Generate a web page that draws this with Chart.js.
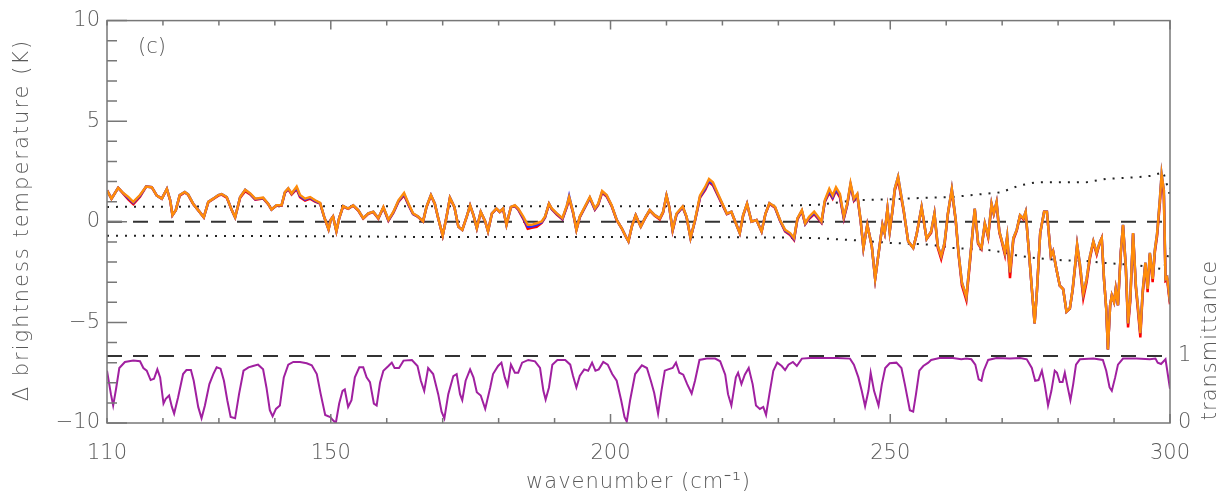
<!DOCTYPE html>
<html>
<head>
<meta charset="utf-8">
<script src="https://cdn.jsdelivr.net/npm/chart.js@4.4.1/dist/chart.umd.min.js"></script>
<style>
  html, body { margin: 0; padding: 0; background: #fff; }
  canvas { display: block; }
</style>
</head>
<body>
<canvas id="spectrumChart" width="1229" height="497"></canvas>
<script>
// wavenumber grid of the brightness temperature differences (cm-1)
const wavenumber = [
  110.0,110.8,112.0,112.9,113.8,114.7,115.9,117.0,118.0,118.9,
  119.8,120.7,121.3,121.7,122.3,123.0,123.9,124.5,125.4,126.3,
  127.3,128.1,129.0,129.9,130.5,131.4,132.3,132.9,133.8,134.7,
  135.6,136.5,137.9,138.8,139.4,140.3,141.2,141.8,142.4,143.0,
  143.9,144.5,145.4,146.3,147.2,148.1,148.8,149.6,150.0,150.4,
  151.0,151.5,152.2,153.1,154.0,154.9,155.8,156.7,157.6,158.5,
  159.4,160.3,161.2,162.1,163.1,163.9,164.7,165.6,166.5,167.1,
  167.9,168.6,169.2,170.0,170.7,171.3,172.1,172.8,173.5,174.3,
  174.9,175.5,176.1,176.8,177.6,178.1,178.8,179.6,180.2,180.8,
  181.4,182.2,182.9,183.5,184.4,185.2,185.9,186.8,187.7,188.3,
  189.0,189.5,190.4,191.4,192.2,192.6,193.3,193.9,194.5,195.4,
  196.3,197.2,197.8,198.5,199.3,200.2,201.1,202.0,202.7,203.2,
  203.8,204.5,205.4,206.3,207.0,207.9,208.8,209.4,210.0,210.5,
  211.1,211.8,212.9,213.6,214.3,215.1,216.0,216.9,217.6,218.3,
  219.2,220.0,220.8,221.6,222.4,223.1,223.7,224.4,225.2,226.1,
  227.0,227.7,228.4,229.4,230.3,231.2,232.1,232.8,233.4,234.2,
  234.8,235.5,236.4,237.1,237.7,238.3,239.1,239.7,240.3,241.0,
  241.7,242.3,242.9,243.5,244.1,244.7,245.2,245.9,246.7,247.3,
  248.0,248.6,249.0,249.5,249.9,250.4,250.8,251.4,251.8,252.4,
  253.2,254.1,254.7,255.6,256.5,257.3,257.9,258.5,259.1,259.7,
  260.3,261.0,261.7,262.2,262.8,263.6,264.2,264.7,265.1,265.7,
  266.3,266.9,267.5,268.1,268.5,269.0,269.5,269.9,270.5,270.9,
  271.4,272.0,272.6,273.2,273.8,274.2,274.8,275.4,275.8,276.2,
  276.8,277.5,278.0,278.7,279.1,279.7,280.3,280.9,281.5,282.1,
  282.6,283.0,283.4,283.9,284.5,285.1,285.7,286.3,286.9,287.4,
  287.8,288.2,288.6,288.9,289.3,289.6,290.0,290.3,290.7,291.2,
  291.6,292.1,292.5,292.9,293.4,293.9,294.3,294.7,295.1,295.6,
  296.0,296.4,296.9,297.3,297.7,298.2,298.5,298.9,299.2,299.5,
  300.0
];

// orange curve (K)
const dTbOrange = [
  1.56,1.15,1.69,1.43,1.23,0.99,1.33,1.75,1.72,1.30,
  1.15,1.64,1.07,0.33,0.58,1.33,1.48,1.36,0.90,0.58,
  0.22,0.99,1.15,1.33,1.38,1.23,0.58,0.22,1.23,1.59,
  1.41,1.15,1.20,0.90,0.61,0.82,0.82,1.48,1.67,1.41,
  1.75,1.33,1.15,1.23,1.07,0.94,0.26,-0.37,0.10,0.26,
  -0.47,0.18,0.78,0.66,0.82,0.58,0.18,0.42,0.50,0.18,
  0.74,0.10,0.50,1.07,1.43,0.90,0.42,0.26,0.02,0.74,
  1.33,0.90,0.18,-0.69,0.26,1.20,0.74,-0.24,-0.40,0.26,
  0.82,0.33,-0.32,0.50,0.02,-0.47,0.42,0.66,0.50,0.66,
  -0.15,0.74,0.82,0.66,0.26,-0.15,-0.15,-0.07,0.02,0.26,
  0.90,0.66,0.42,0.18,0.82,1.23,0.50,-0.40,0.26,0.74,
  1.23,0.66,0.90,1.53,1.33,0.82,0.10,-0.32,-0.72,-0.97,
  -0.24,0.33,-0.24,0.26,0.58,0.33,0.17,0.50,1.31,0.74,
  -0.40,0.41,0.77,0.25,-0.81,0.09,1.31,1.72,2.13,1.96,
  1.39,0.90,0.41,0.50,-0.07,-0.56,0.33,0.90,0.01,0.09,
  -0.48,0.41,0.93,0.74,0.09,-0.40,-0.56,-0.81,0.17,0.58,
  -0.07,0.25,0.50,0.25,0.01,1.07,1.64,1.31,1.72,1.39,
  0.25,0.90,1.92,1.15,1.39,0.09,-1.30,-0.15,-1.21,-2.84,
  -1.38,-0.15,-0.56,0.66,-0.48,0.58,1.64,2.24,1.56,0.58,
  -0.97,-1.30,-0.64,0.74,-0.85,-0.48,0.41,-1.21,-1.70,-1.05,
  0.41,1.64,0.09,-1.54,-3.01,-3.74,-2.03,-0.56,0.66,-1.05,
  -1.30,-0.07,-0.72,0.90,0.41,0.98,-0.48,-0.89,-1.54,-0.72,
  -2.52,-0.81,-0.40,0.33,0.17,0.50,-1.54,-3.66,-5.05,-3.50,
  -0.56,0.50,0.50,-1.70,-1.46,-2.36,-3.17,-3.34,-4.47,-4.31,
  -3.34,-2.27,-1.13,-2.11,-3.58,-2.84,-1.70,-0.97,-1.54,-1.05,
  -0.81,-2.84,-4.31,-6.35,-4.15,-3.66,-3.99,-3.34,-4.15,-1.54,
  -0.15,-2.19,-5.05,-3.82,-0.56,-3.17,-4.31,-5.53,-3.50,-2.03,
  -3.34,-1.54,-2.84,-1.38,-0.56,1.15,2.37,1.56,-2.84,-2.76,
  -3.99
];

// red curve (K)
const dTbRed = [
  1.56,1.15,1.69,1.40,1.12,0.88,1.25,1.75,1.72,1.30,
  1.15,1.62,1.05,0.33,0.58,1.30,1.46,1.34,0.88,0.58,
  0.22,0.97,1.13,1.30,1.35,1.20,0.58,0.22,1.20,1.52,
  1.36,1.10,1.16,0.88,0.61,0.80,0.80,1.44,1.62,1.36,
  1.62,1.22,1.05,1.15,1.00,0.90,0.26,-0.37,0.10,0.26,
  -0.47,0.18,0.76,0.64,0.80,0.56,0.16,0.40,0.48,0.16,
  0.70,0.05,0.46,1.00,1.32,0.82,0.38,0.24,0.02,0.72,
  1.30,0.88,0.18,-0.69,0.26,1.18,0.72,-0.24,-0.40,0.26,
  0.80,0.33,-0.32,0.48,0.02,-0.47,0.40,0.64,0.48,0.62,
  -0.15,0.72,0.78,0.60,0.15,-0.35,-0.30,-0.25,-0.05,0.22,
  0.88,0.62,0.36,0.12,0.74,1.15,0.45,-0.40,0.22,0.70,
  1.18,0.60,0.84,1.45,1.26,0.78,0.08,-0.32,-0.72,-0.97,
  -0.24,0.33,-0.24,0.24,0.55,0.30,0.12,0.46,1.28,0.72,
  -0.45,0.36,0.72,0.22,-0.81,0.05,1.20,1.58,1.98,1.82,
  1.30,0.84,0.38,0.48,-0.07,-0.56,0.30,0.88,0.01,0.09,
  -0.48,0.40,0.90,0.70,0.05,-0.48,-0.65,-0.90,0.12,0.52,
  -0.12,0.15,0.38,0.15,-0.05,0.98,1.45,1.15,1.55,1.22,
  0.15,0.82,1.80,1.05,1.30,0.05,-1.30,-0.15,-1.21,-2.84,
  -1.38,-0.15,-0.56,0.62,-0.48,0.55,1.55,2.10,1.45,0.52,
  -0.97,-1.30,-0.64,0.70,-0.85,-0.55,0.38,-1.30,-1.85,-1.15,
  0.38,1.55,0.05,-1.60,-3.15,-3.90,-2.15,-0.60,0.62,-1.10,
  -1.35,-0.12,-0.78,0.85,0.38,0.92,-0.55,-0.95,-1.65,-0.80,
  -2.80,-0.90,-0.45,0.30,0.12,0.45,-1.54,-3.66,-5.05,-3.50,
  -0.56,0.50,0.50,-1.70,-1.46,-2.36,-3.17,-3.34,-4.47,-4.31,
  -3.40,-2.35,-1.20,-2.25,-3.80,-3.00,-1.80,-1.02,-1.62,-1.10,
  -0.81,-2.84,-4.31,-6.35,-4.15,-3.66,-3.99,-3.34,-4.15,-1.54,
  -0.18,-2.30,-5.25,-3.95,-0.60,-3.30,-4.50,-5.75,-3.65,-2.10,
  -3.50,-1.62,-3.00,-1.50,-0.70,0.95,2.20,1.30,-2.95,-2.90,
  -4.10
];

// blue curve (K)
const dTbBlue = [
  1.56,1.15,1.69,1.42,1.18,0.95,1.30,1.75,1.72,1.30,
  1.15,1.64,1.07,0.33,0.58,1.33,1.48,1.36,0.90,0.58,
  0.22,0.99,1.15,1.33,1.38,1.23,0.58,0.22,1.23,1.59,
  1.39,1.13,1.18,0.90,0.61,0.82,0.82,1.46,1.65,1.40,
  1.68,1.28,1.10,1.20,1.04,0.92,0.26,-0.37,0.10,0.26,
  -0.47,0.18,0.78,0.66,0.82,0.58,0.18,0.42,0.50,0.18,
  0.72,0.08,0.48,1.04,1.38,0.86,0.40,0.26,0.02,0.74,
  1.33,0.90,0.18,-0.69,0.26,1.20,0.74,-0.24,-0.40,0.26,
  0.82,0.33,-0.32,0.50,0.02,-0.47,0.42,0.66,0.50,0.66,
  -0.15,0.74,0.80,0.63,0.20,-0.25,-0.24,-0.15,-0.02,0.24,
  0.90,0.64,0.40,0.15,0.78,1.28,0.48,-0.40,0.24,0.72,
  1.20,0.63,0.87,1.50,1.30,0.80,0.10,-0.32,-0.72,-0.97,
  -0.24,0.33,-0.24,0.26,0.58,0.33,0.17,0.50,1.31,0.74,
  -0.42,0.38,0.75,0.24,-0.81,0.07,1.25,1.64,2.05,1.88,
  1.34,0.87,0.40,0.50,-0.07,-0.56,0.32,0.90,0.01,0.09,
  -0.48,0.41,0.92,0.72,0.07,-0.44,-0.60,-0.85,0.15,0.55,
  -0.10,0.20,0.45,0.20,-0.02,1.02,1.55,1.22,1.62,1.30,
  0.20,0.86,1.86,1.10,1.35,0.07,-1.30,-0.15,-1.21,-2.84,
  -1.38,-0.15,-0.56,0.66,-0.48,0.58,1.64,2.24,1.56,0.58,
  -0.97,-1.30,-0.64,0.74,-0.85,-0.48,0.41,-1.21,-1.70,-1.05,
  0.41,1.64,0.09,-1.54,-3.01,-3.74,-2.03,-0.56,0.66,-1.05,
  -1.30,-0.07,-0.72,0.90,0.41,0.98,-0.48,-0.89,-1.54,-0.72,
  -2.52,-0.81,-0.40,0.33,0.17,0.50,-1.54,-3.66,-5.05,-3.50,
  -0.56,0.50,0.50,-1.70,-1.46,-2.36,-3.17,-3.34,-4.47,-4.31,
  -3.34,-2.27,-1.13,-2.11,-3.58,-2.84,-1.70,-0.97,-1.54,-1.05,
  -0.81,-2.84,-4.31,-6.35,-4.15,-3.66,-3.99,-3.34,-4.15,-1.54,
  -0.15,-2.19,-5.05,-3.82,-0.56,-3.17,-4.31,-5.53,-3.50,-2.03,
  -3.34,-1.54,-2.84,-1.38,-0.56,1.15,2.37,1.56,-2.84,-2.76,
  -3.99
];

// transmittance spectrum (right axis)
const transWavenumber = [
  110.0,110.7,111.1,111.6,112.2,113.2,114.7,115.9,116.5,117.1,
  117.8,118.4,119.0,119.5,120.1,120.5,121.1,121.6,122.0,122.7,
  123.6,124.2,125.0,125.5,126.3,126.9,127.5,128.3,129.0,129.6,
  130.3,130.9,131.5,132.1,132.9,133.6,134.4,135.3,136.1,137.0,
  137.9,138.5,139.1,139.6,140.2,140.9,141.6,142.4,143.3,144.5,
  145.7,146.6,147.5,148.2,149.0,149.9,150.4,150.9,151.5,152.1,
  152.5,153.1,153.7,154.3,155.1,155.8,156.4,157.0,157.7,158.2,
  158.8,159.4,160.3,160.9,161.4,162.2,163.0,164.5,165.5,166.1,
  166.7,167.4,168.3,169.2,169.8,170.3,171.0,171.9,172.5,173.1,
  173.5,174.1,174.9,175.5,176.1,176.8,177.6,178.5,179.0,179.9,
  180.5,181.1,181.6,182.2,182.9,183.5,184.2,185.3,186.5,187.4,
  188.0,188.4,189.0,189.6,190.5,191.9,192.8,193.3,193.9,194.5,
  195.3,196.0,196.7,197.3,197.9,198.7,199.5,200.3,201.1,201.9,
  202.5,202.9,203.5,204.4,205.6,206.5,207.2,207.8,208.5,209.1,
  209.7,210.3,211.1,211.7,212.3,213.0,213.7,214.5,215.1,215.9,
  217.2,218.7,219.6,220.5,221.0,221.6,222.4,222.8,223.4,224.0,
  224.7,225.4,226.0,226.7,227.3,227.8,228.4,229.1,229.8,230.6,
  231.2,231.8,232.6,233.3,234.2,235.7,238.1,240.5,242.8,243.5,
  244.3,244.9,245.5,246.1,246.5,247.1,247.9,248.5,249.1,249.9,
  251.1,252.0,252.6,253.5,254.1,254.6,255.2,255.9,256.8,257.3,
  258.8,261.2,262.7,263.6,264.5,265.2,265.8,266.3,266.7,267.5,
  269.0,271.4,273.2,274.4,275.3,275.9,276.5,277.1,277.6,278.2,
  278.8,279.4,279.8,280.3,280.8,281.2,281.6,282.2,282.7,283.2,
  283.9,286.3,288.0,288.6,289.2,289.6,290.2,290.7,291.6,294.0,
  296.4,297.4,297.8,298.4,299.2,300.0
];
const transmittance = [
  0.78,0.43,0.26,0.50,0.82,0.91,0.93,0.92,0.82,0.78,
  0.64,0.66,0.80,0.68,0.29,0.36,0.41,0.24,0.14,0.38,
  0.73,0.79,0.79,0.63,0.24,0.07,0.26,0.58,0.73,0.83,
  0.81,0.63,0.34,0.09,0.07,0.43,0.78,0.83,0.85,0.87,
  0.80,0.53,0.19,0.10,0.21,0.26,0.68,0.87,0.91,0.91,
  0.89,0.86,0.73,0.43,0.12,0.09,0.04,0.00,0.29,0.48,
  0.50,0.24,0.34,0.68,0.83,0.83,0.68,0.61,0.29,0.26,
  0.60,0.78,0.85,0.90,0.82,0.82,0.93,0.94,0.85,0.63,
  0.48,0.82,0.73,0.43,0.17,0.07,0.43,0.70,0.73,0.43,
  0.34,0.63,0.80,0.68,0.46,0.41,0.21,0.53,0.73,0.85,
  0.90,0.68,0.56,0.87,0.75,0.75,0.90,0.94,0.92,0.82,
  0.48,0.35,0.53,0.87,0.94,0.94,0.87,0.70,0.53,0.70,
  0.80,0.78,0.90,0.78,0.80,0.91,0.87,0.73,0.63,0.34,
  0.09,0.02,0.34,0.73,0.86,0.82,0.63,0.45,0.14,0.48,
  0.78,0.80,0.82,0.90,0.75,0.72,0.58,0.44,0.63,0.94,
  0.96,0.96,0.92,0.72,0.43,0.26,0.68,0.75,0.58,0.72,
  0.82,0.58,0.26,0.21,0.24,0.12,0.43,0.78,0.90,0.85,
  0.79,0.87,0.91,0.85,0.96,0.97,0.97,0.97,0.96,0.87,
  0.68,0.48,0.25,0.48,0.75,0.48,0.26,0.58,0.82,0.89,
  0.90,0.82,0.58,0.19,0.17,0.43,0.78,0.85,0.90,0.94,
  0.97,0.97,0.95,0.96,0.95,0.87,0.65,0.63,0.78,0.94,
  0.97,0.96,0.97,0.95,0.82,0.63,0.64,0.78,0.58,0.26,
  0.48,0.78,0.75,0.61,0.61,0.75,0.58,0.34,0.58,0.87,
  0.95,0.96,0.94,0.78,0.53,0.48,0.68,0.87,0.96,0.96,
  0.95,0.96,0.90,0.88,0.95,0.51
];

// dotted uncertainty envelope (K)
const envWavenumber = [110,130,150,170,190,210,230,237,243.8,250,257,261,266.9,269.9,273,276,281,285,288.5,293.8,296.8,298.8,299.5,300];
const envUpper = [0.74,0.76,0.78,0.77,0.77,0.77,0.80,0.84,1.07,1.12,1.20,1.23,1.39,1.47,1.80,1.96,1.96,1.96,2.13,2.21,2.29,2.47,1.80,1.30];
const envLower = [-0.69,-0.70,-0.72,-0.76,-0.76,-0.76,-0.78,-0.81,-0.92,-1.05,-1.13,-1.30,-1.38,-1.50,-1.70,-1.80,-1.92,-1.95,-2.05,-2.15,-2.27,-2.36,-1.80,-1.30];

// reference levels
const zeroLevel = 0;
const clearSky = 1;

// tick labels
const xTickValues = [110, 150, 200, 250, 300];
const yTickValues = [-10, -5, 0, 5, 10];
const transTickValues = [0, 1];

const pairs = (xs, ys) => xs.map((x, i) => ({ x: x, y: ys[i] }));
const textFont = { family: 'DejaVu Sans', size: 21, weight: '200' };
const textColor = '#5a5a5a';

// frame, inward ticks and the axis titles
const axisDecor = {
  id: 'axisDecor',
  afterDatasetsDraw(chart) {
    const { ctx, chartArea: a, scales: { x, y } } = chart;
    ctx.save();
    ctx.strokeStyle = '#777';
    ctx.lineWidth = 1.5;
    ctx.beginPath();
    for (let v = 110; v <= 300; v += 10) {
      const px = x.getPixelForValue(v);
      const len = v % 50 === 0 ? 9 : 5;
      ctx.moveTo(px, a.bottom); ctx.lineTo(px, a.bottom - len);
      ctx.moveTo(px, a.top); ctx.lineTo(px, a.top + len);
    }
    for (let v = -10; v <= 10; v += 1) {
      const py = y.getPixelForValue(v);
      const len = v % 5 === 0 ? 20 : 10;
      ctx.moveTo(a.left, py); ctx.lineTo(a.left + len, py);
    }
    ctx.stroke();
    ctx.strokeRect(a.left, a.top, a.right - a.left, a.bottom - a.top);

    ctx.fillStyle = textColor;
    ctx.font = '200 21px "DejaVu Sans"';
    ctx.textAlign = 'center';
    ctx.textBaseline = 'middle';
    ctx.fillText('(c)', 152, 48);

    ctx.letterSpacing = '1px';
    ctx.fillText('wavenumber (cm\u207B\u00B9)', (a.left + a.right) / 2, 483);

    ctx.save();
    ctx.letterSpacing = '2px';
    ctx.translate(23, 220);
    ctx.rotate(-Math.PI / 2);
    ctx.fillText('\u0394 brightness temperature (K)', 0, 0);
    ctx.restore();

    ctx.save();
    ctx.letterSpacing = '1px';
    ctx.translate(1211, 340);
    ctx.rotate(-Math.PI / 2);
    ctx.fillText('transmittance', 0, 0);
    ctx.restore();
    ctx.restore();
  }
};

const ctx = document.getElementById('spectrumChart').getContext('2d');
const spectrumChart = new Chart(ctx, {
  type: 'line',
  data: {
    datasets: [
      { label: 'orange', data: pairs(wavenumber, dTbOrange), borderColor: '#ff8c0a', borderWidth: 2.5, order: 0 },
      { label: 'blue', data: pairs(wavenumber, dTbBlue), borderColor: '#2a2aff', borderWidth: 2.5, order: 1 },
      { label: 'red', data: pairs(wavenumber, dTbRed), borderColor: '#ff0000', borderWidth: 2.5, order: 2 },
      { label: 'upper', data: pairs(envWavenumber, envUpper), borderColor: '#222', borderWidth: 2, borderDash: [2, 7], order: 3 },
      { label: 'lower', data: pairs(envWavenumber, envLower), borderColor: '#222', borderWidth: 2, borderDash: [2, 7], order: 3 },
      { label: 'zero', data: [{ x: 110, y: zeroLevel }, { x: 300, y: zeroLevel }], borderColor: '#333', borderWidth: 2, borderDash: [15, 11], order: 3 },
      { label: 'clear', data: [{ x: 110, y: clearSky }, { x: 300, y: clearSky }], yAxisID: 'y2', borderColor: '#333', borderWidth: 2, borderDash: [15, 11], order: 3 },
      { label: 'transmittance', data: pairs(transWavenumber, transmittance), yAxisID: 'y2', borderColor: '#a020a0', borderWidth: 2, order: 4 }
    ]
  },
  options: {
    responsive: false,
    animation: false,
    devicePixelRatio: 1,
    layout: { padding: { top: 14, left: 0, right: 0, bottom: 0 } },
    elements: { point: { radius: 0 }, line: { tension: 0, fill: false } },
    plugins: { legend: { display: false }, tooltip: { enabled: false } },
    scales: {
      x: {
        type: 'linear', min: 110, max: 300,
        afterBuildTicks: s => { s.ticks = xTickValues.map(v => ({ value: v })); },
        afterFit: s => { s.height = 74; },
        grid: { display: false, drawTicks: false },
        border: { display: false },
        ticks: { font: textFont, color: textColor, padding: 18, maxRotation: 0, autoSkip: false }
      },
      y: {
        min: -10, max: 10,
        afterBuildTicks: s => { s.ticks = yTickValues.map(v => ({ value: v })); },
        afterFit: s => { s.width = 107; },
        grid: { display: false, drawTicks: false },
        border: { display: false },
        ticks: { font: textFont, color: textColor, padding: 7, callback: v => String(v).replace('-', '\u2212') }
      },
      y2: {
        position: 'right', min: 0, max: 6,
        afterBuildTicks: s => { s.ticks = transTickValues.map(v => ({ value: v })); },
        afterFit: s => { s.width = 59; },
        grid: { display: false, drawTicks: false },
        border: { display: false },
        ticks: { font: textFont, color: textColor, padding: 8 }
      }
    }
  },
  plugins: [axisDecor]
});
</script>
</body>
</html>
